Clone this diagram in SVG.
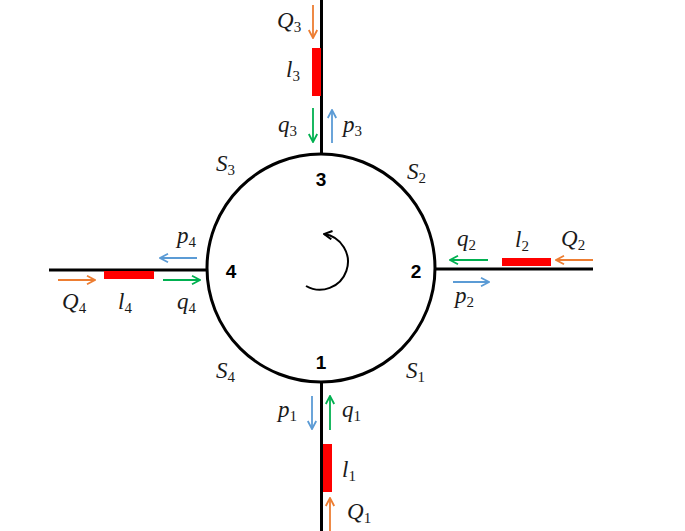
<svg xmlns="http://www.w3.org/2000/svg" width="685" height="531" viewBox="0 0 685 531">
<style>
.w{stroke:#000;stroke-width:3;fill:none}
.bar{fill:#FF0000}
.o{stroke:#ED7D31;stroke-width:1.8;fill:none;marker-end:url(#ao)}
.g{stroke:#00B050;stroke-width:1.8;fill:none;marker-end:url(#ag)}
.b{stroke:#5B9BD5;stroke-width:1.8;fill:none;marker-end:url(#ab)}
.m{font-family:"Liberation Serif","DejaVu Serif",serif;font-style:italic;font-size:23px;fill:#1a1a1a}
.s{font-style:normal;font-size:15px}
.n{font-family:"Liberation Sans",Arial,sans-serif;font-weight:bold;font-size:19px;fill:#000;text-anchor:middle}
</style>
<defs>
<marker id="ao" markerUnits="userSpaceOnUse" viewBox="0 0 10 10" refX="9" refY="5" markerWidth="10" markerHeight="10" orient="auto"><path d="M1,0.8 L9,5 L1,9.2" fill="none" stroke="#ED7D31" stroke-width="1.8"/></marker>
<marker id="ag" markerUnits="userSpaceOnUse" viewBox="0 0 10 10" refX="9" refY="5" markerWidth="10" markerHeight="10" orient="auto"><path d="M1,0.8 L9,5 L1,9.2" fill="none" stroke="#00B050" stroke-width="1.8"/></marker>
<marker id="ab" markerUnits="userSpaceOnUse" viewBox="0 0 10 10" refX="9" refY="5" markerWidth="10" markerHeight="10" orient="auto"><path d="M1,0.8 L9,5 L1,9.2" fill="none" stroke="#5B9BD5" stroke-width="1.8"/></marker>
<marker id="ak" markerUnits="userSpaceOnUse" viewBox="0 0 10 10" refX="9" refY="5" markerWidth="10" markerHeight="10" orient="auto"><path d="M1,0.8 L9,5 L1,9.2" fill="none" stroke="#000" stroke-width="2"/></marker>
</defs>

<g id="ring">
<circle class="w" cx="321" cy="268" r="114"/>
<path d="M306,286 A28,28 0 1 0 324,234" fill="none" stroke="#000" stroke-width="2" marker-end="url(#ak)"/>
<text class="n" x="321" y="186">3</text>
<text class="n" x="321" y="369">1</text>
<text class="n" x="416" y="278">2</text>
<text class="n" x="231" y="278">4</text>
<text class="m" x="407" y="179">S<tspan class="s" dy="4">2</tspan></text>
<text class="m" x="216" y="171">S<tspan class="s" dy="4">3</tspan></text>
<text class="m" x="406" y="378">S<tspan class="s" dy="4">1</tspan></text>
<text class="m" x="216" y="378">S<tspan class="s" dy="4">4</tspan></text>
</g>

<g id="port3">
<line class="w" x1="321.5" y1="0" x2="321.5" y2="154"/>
<rect class="bar" x="312" y="48" width="9" height="48"/>
<text class="m" x="277" y="28">Q<tspan class="s" dy="4">3</tspan></text>
<text class="m" x="286" y="77">l<tspan class="s" dy="4">3</tspan></text>
<text class="m" x="278" y="132">q<tspan class="s" dy="4">3</tspan></text>
<text class="m" x="343" y="132">p<tspan class="s" dy="4">3</tspan></text>
</g>

<g id="port2">
<line class="w" x1="435" y1="269" x2="593" y2="269"/>
<rect class="bar" x="502" y="258" width="49" height="8"/>
<text class="m" x="457" y="246">q<tspan class="s" dy="4">2</tspan></text>
<text class="m" x="515" y="247">l<tspan class="s" dy="4">2</tspan></text>
<text class="m" x="561" y="246">Q<tspan class="s" dy="4">2</tspan></text>
<text class="m" x="455" y="303">p<tspan class="s" dy="4">2</tspan></text>
</g>

<g id="port4">
<line class="w" x1="49" y1="270" x2="207" y2="270"/>
<rect class="bar" x="104" y="271" width="50" height="8"/>
<text class="m" x="177" y="243">p<tspan class="s" dy="4">4</tspan></text>
<text class="m" x="62" y="309">Q<tspan class="s" dy="4">4</tspan></text>
<text class="m" x="118" y="309">l<tspan class="s" dy="4">4</tspan></text>
<text class="m" x="177" y="309">q<tspan class="s" dy="4">4</tspan></text>
</g>

<g id="port1">
<line class="w" x1="321.5" y1="382" x2="321.5" y2="531"/>
<rect class="bar" x="323" y="444" width="9" height="48"/>
<text class="m" x="278" y="417">p<tspan class="s" dy="4">1</tspan></text>
<text class="m" x="342" y="417">q<tspan class="s" dy="4">1</tspan></text>
<text class="m" x="342" y="477">l<tspan class="s" dy="4">1</tspan></text>
<text class="m" x="347" y="519">Q<tspan class="s" dy="4">1</tspan></text>
</g>

<g id="connectors">
<line class="o" x1="313" y1="5" x2="313" y2="38"/>
<line class="g" x1="313" y1="108" x2="313" y2="142"/>
<line class="b" x1="332" y1="143" x2="332" y2="110"/>
<line class="g" x1="488" y1="260" x2="450" y2="260"/>
<line class="b" x1="453" y1="282" x2="489" y2="282"/>
<line class="o" x1="593" y1="260" x2="556" y2="260"/>
<line class="b" x1="197" y1="258" x2="160" y2="258"/>
<line class="o" x1="58" y1="280" x2="95" y2="280"/>
<line class="g" x1="163" y1="280" x2="200" y2="280"/>
<line class="b" x1="312" y1="396" x2="312" y2="429"/>
<line class="g" x1="330" y1="430" x2="330" y2="396"/>
<line class="o" x1="330" y1="531" x2="330" y2="498"/>
</g>
</svg>
